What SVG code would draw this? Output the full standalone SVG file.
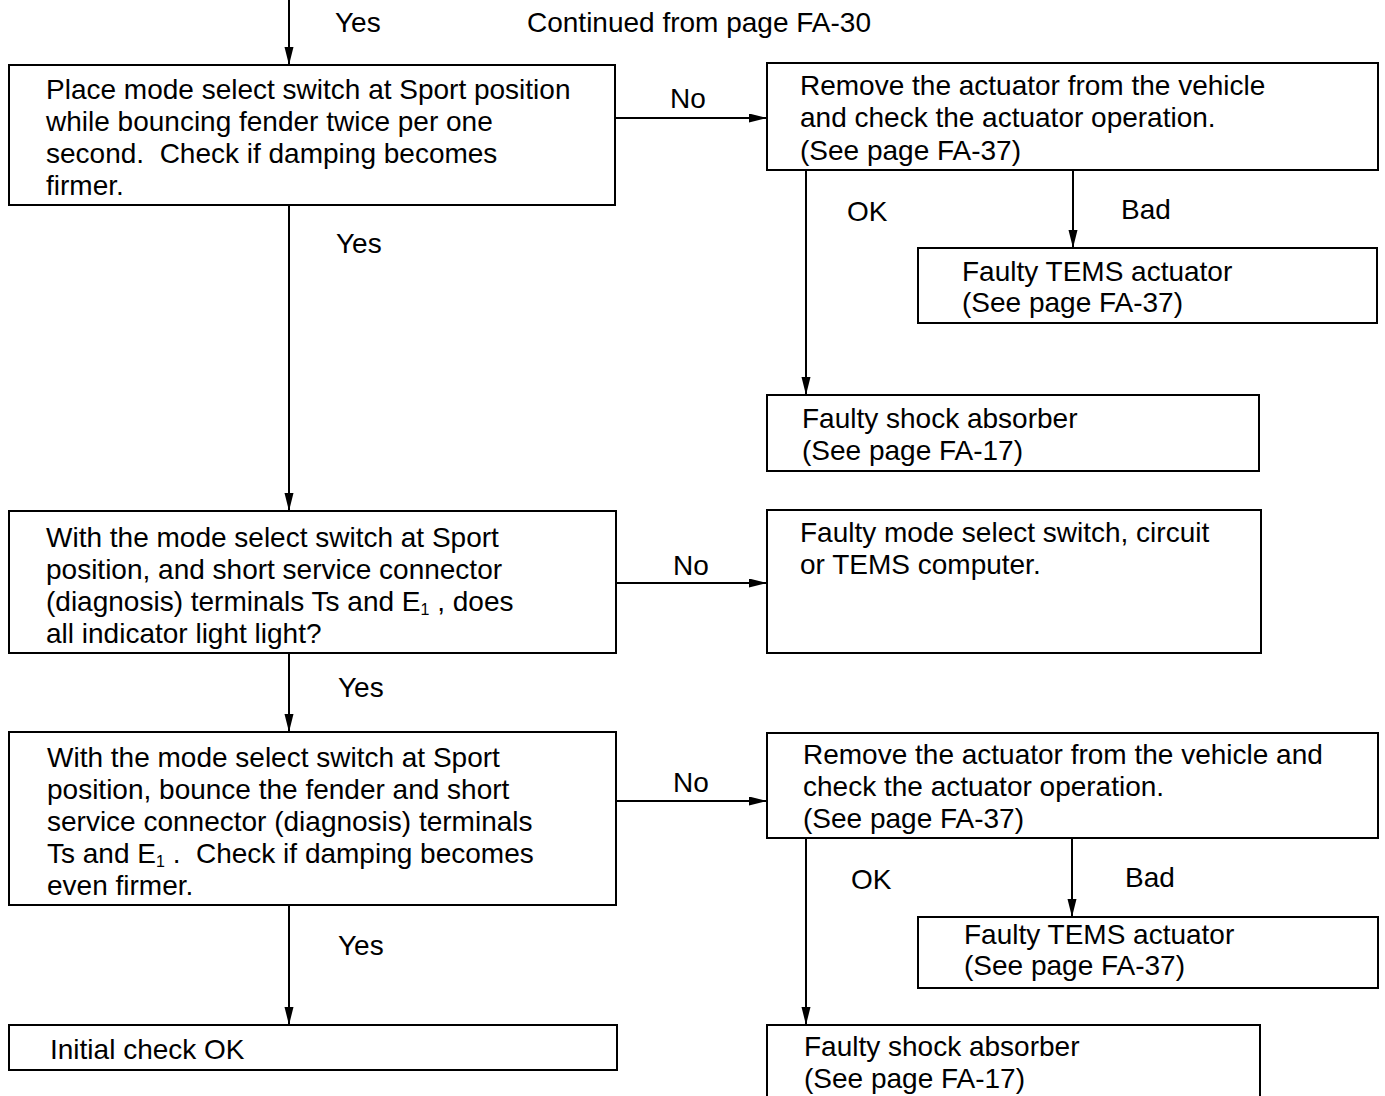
<svg xmlns="http://www.w3.org/2000/svg" width="1385" height="1096" viewBox="0 0 1385 1096">
<style>
.box{fill:#fff;stroke:#000;stroke-width:2}
.ln{fill:none;stroke:#000;stroke-width:2}
text{font-family:"Liberation Sans",Arial,sans-serif;font-size:28px;fill:#000;white-space:pre}
.sub{font-size:16px}
</style>
<defs>
<marker id="ah" markerUnits="userSpaceOnUse" markerWidth="20" markerHeight="10" refX="18" refY="4.5" orient="auto">
<path d="M0,0 L18,4.5 L0,9 z" fill="#000"/>
</marker>
</defs>
<rect width="1385" height="1096" fill="#fff"/>
<g id="connectors">
<line class="ln" x1="289" y1="0" x2="289" y2="65" marker-end="url(#ah)"/>
<text x="335" y="32">Yes</text>
<line class="ln" x1="615" y1="118" x2="767" y2="118" marker-end="url(#ah)"/>
<text x="670" y="108">No</text>
<line class="ln" x1="806" y1="170" x2="806" y2="395" marker-end="url(#ah)"/>
<text x="847" y="221">OK</text>
<line class="ln" x1="1073" y1="170" x2="1073" y2="248" marker-end="url(#ah)"/>
<text x="1121" y="219">Bad</text>
<line class="ln" x1="289" y1="205" x2="289" y2="511" marker-end="url(#ah)"/>
<text x="336" y="253">Yes</text>
<line class="ln" x1="616" y1="583" x2="767" y2="583" marker-end="url(#ah)"/>
<text x="673" y="575">No</text>
<line class="ln" x1="289" y1="653" x2="289" y2="732" marker-end="url(#ah)"/>
<text x="338" y="697">Yes</text>
<line class="ln" x1="616" y1="801" x2="767" y2="801" marker-end="url(#ah)"/>
<text x="673" y="792">No</text>
<line class="ln" x1="806" y1="838" x2="806" y2="1025" marker-end="url(#ah)"/>
<text x="851" y="889">OK</text>
<line class="ln" x1="1072" y1="838" x2="1072" y2="917" marker-end="url(#ah)"/>
<text x="1125" y="887">Bad</text>
<line class="ln" x1="289" y1="905" x2="289" y2="1025" marker-end="url(#ah)"/>
<text x="338" y="955">Yes</text>
</g>
<text id="continued" x="527" y="32">Continued from page FA-30</text>
<g id="check1">
<rect class="box" x="9" y="65" width="606" height="140"/>
<text x="46" y="99">Place mode select switch at Sport position</text>
<text x="46" y="131">while bouncing fender twice per one</text>
<text x="46" y="163">second.  Check if damping becomes</text>
<text x="46" y="195">firmer.</text>
</g>
<g id="actuator1">
<rect class="box" x="767" y="63" width="611" height="107"/>
<text x="800" y="95">Remove the actuator from the vehicle</text>
<text x="800" y="127">and check the actuator operation.</text>
<text x="800" y="160">(See page FA-37)</text>
</g>
<g id="tems1">
<rect class="box" x="918" y="248" width="459" height="75"/>
<text x="962" y="281">Faulty TEMS actuator</text>
<text x="962" y="312">(See page FA-37)</text>
</g>
<g id="shock1">
<rect class="box" x="767" y="395" width="492" height="76"/>
<text x="802" y="428">Faulty shock absorber</text>
<text x="802" y="460">(See page FA-17)</text>
</g>
<g id="check2">
<rect class="box" x="9" y="511" width="607" height="142"/>
<text x="46" y="547">With the mode select switch at Sport</text>
<text x="46" y="579">position, and short service connector</text>
<text x="46" y="611">(diagnosis) terminals Ts and E<tspan class="sub" dy="4">1</tspan><tspan dy="-4"> , does</tspan></text>
<text x="46" y="643">all indicator light light?</text>
</g>
<g id="switch">
<rect class="box" x="767" y="510" width="494" height="143"/>
<text x="800" y="542">Faulty mode select switch, circuit</text>
<text x="800" y="574">or TEMS computer.</text>
</g>
<g id="check3">
<rect class="box" x="9" y="732" width="607" height="173"/>
<text x="47" y="767">With the mode select switch at Sport</text>
<text x="47" y="799">position, bounce the fender and short</text>
<text x="47" y="831">service connector (diagnosis) terminals</text>
<text x="47" y="863">Ts and E<tspan class="sub" dy="4">1</tspan><tspan dy="-4"> .  Check if damping becomes</tspan></text>
<text x="47" y="895">even firmer.</text>
</g>
<g id="actuator2">
<rect class="box" x="767" y="733" width="611" height="105"/>
<text x="803" y="764">Remove the actuator from the vehicle and</text>
<text x="803" y="796">check the actuator operation.</text>
<text x="803" y="828">(See page FA-37)</text>
</g>
<g id="tems2">
<rect class="box" x="918" y="917" width="460" height="71"/>
<text x="964" y="944">Faulty TEMS actuator</text>
<text x="964" y="975">(See page FA-37)</text>
</g>
<g id="shock2">
<rect class="box" x="767" y="1025" width="493" height="80"/>
<text x="804" y="1056">Faulty shock absorber</text>
<text x="804" y="1088">(See page FA-17)</text>
</g>
<g id="ok">
<rect class="box" x="9" y="1025" width="608" height="45"/>
<text x="50" y="1059">Initial check OK</text>
</g>
</svg>
